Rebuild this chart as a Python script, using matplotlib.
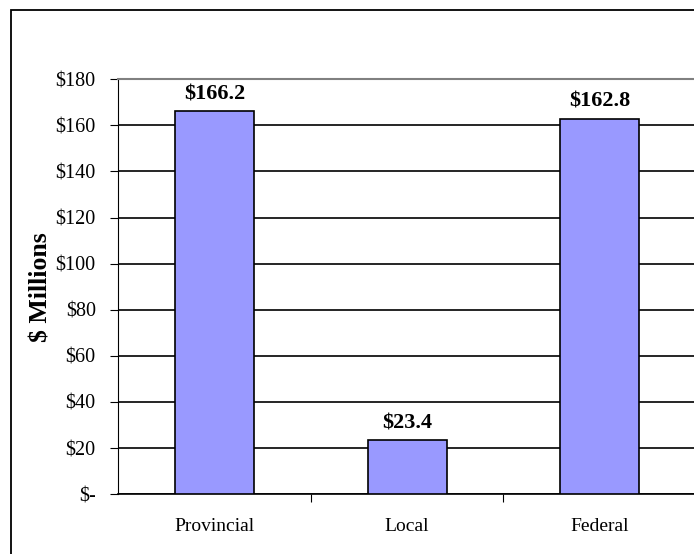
import matplotlib.pyplot as plt
from matplotlib.patches import Rectangle

categories = ['Provincial', 'Local', 'Federal']
values = [166.2, 23.4, 162.8]
bar_labels = ['$166.2', '$23.4', '$162.8']
yticks = [0, 20, 40, 60, 80, 100, 120, 140, 160, 180]
ytick_labels = ['$-', '$20', '$40', '$60', '$80', '$100', '$120', '$140', '$160', '$180']

plt.rcParams['font.family'] = ['Liberation Serif', 'DejaVu Serif']

fig = plt.figure(figsize=(6.94, 5.54), dpi=100)
ax = fig.add_axes([0.170, 0.108, 0.833, 0.749])

# chart border
fig.patches.append(Rectangle((11 / 694, -0.05), 1.0, 1 - 9.5 / 554 + 0.05, transform=fig.transFigure,
                             fill=False, edgecolor='black', linewidth=1.3, zorder=0))

x = range(len(categories))
ax.bar(x, values, width=0.41, color='#9999FF', edgecolor='black', linewidth=1.2, zorder=3)
for xi, v, lab in zip(x, values, bar_labels):
    ax.text(xi, v + 3, lab, ha='center', va='bottom', fontsize=16, fontweight='bold')

ax.set_xlim(-0.5, 2.5)
ax.set_ylim(0, 180)
ax.set_yticks(yticks)
ax.set_yticklabels(ytick_labels, fontsize=14.5)
ax.yaxis.grid(True, color='black', linewidth=1.2, zorder=0)
ax.set_axisbelow(True)

ax.set_xticks([0.5, 1.5], minor=False)
ax.set_xticklabels([])
ax.set_xticks(list(x), minor=True)
ax.set_xticklabels(categories, minor=True, fontsize=14)
ax.tick_params(axis='x', which='minor', length=0, pad=17)
ax.tick_params(axis='x', which='major', direction='out', length=6, width=0.8)
ax.tick_params(axis='y', direction='out', length=6, width=0.8, pad=10)

ax.spines['top'].set_color('#808080')
ax.spines['top'].set_linewidth(1.5)
ax.spines['right'].set_visible(False)
ax.spines['left'].set_linewidth(0.8)
ax.spines['bottom'].set_linewidth(1.2)

ax.set_ylabel('$ Millions', fontsize=18.5, fontweight='bold')
ax.yaxis.set_label_coords(-0.114, 0.5)

fig.savefig('out.png', dpi=100)
